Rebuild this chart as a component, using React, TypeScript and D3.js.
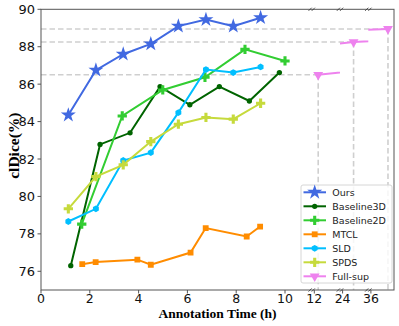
import React, { useEffect, useRef } from 'react';
import * as d3 from 'd3';

// annotation hours and clDice (%)
const oursX = [1.12, 2.25, 3.37, 4.5, 5.63, 6.76, 7.88, 9.0];
const oursY = [84.35, 86.75, 87.6, 88.15, 89.1, 89.45, 89.1, 89.55];
const base3dX = [1.22, 2.42, 3.65, 4.88, 6.1, 7.31, 8.54, 9.77];
const base3dY = [76.3, 82.78, 83.4, 85.87, 84.9, 85.87, 85.1, 86.62];
const base2dX = [1.67, 3.33, 4.99, 6.72, 8.36, 10.0];
const base2dY = [78.52, 84.3, 85.69, 86.37, 87.86, 87.24];
const mtclX = [1.69, 2.24, 3.95, 4.5, 6.13, 6.75, 8.43, 8.98];
const mtclY = [76.38, 76.49, 76.62, 76.35, 77.0, 78.31, 77.86, 78.39];
const sldX = [1.12, 2.25, 3.37, 4.5, 5.63, 6.76, 7.88, 9.0];
const sldY = [78.66, 79.34, 81.92, 82.34, 84.48, 86.78, 86.62, 86.92];
const spdsX = [1.12, 2.25, 3.37, 4.5, 5.63, 6.76, 7.88, 9.0];
const spdsY = [79.34, 81.06, 81.69, 82.93, 83.86, 84.22, 84.13, 84.98];
const fullX = [12.16, 24.45, 36.7];
const fullY = [86.5, 88.25, 88.95];

const mainTicks = [0, 2, 4, 6, 8, 10];
const breakTicks = [12, 24, 36];
const yTicks = [76, 78, 80, 82, 84, 86, 88, 90];

const seriesNames = ['Ours', 'Baseline3D', 'Baseline2D', 'MTCL', 'SLD', 'SPDS', 'Full-sup'];
const seriesColors = ['#4169e1', '#006400', '#32cd32', '#ff8c00', '#00bfff', '#c6da3c', '#ee82ee'];

const W = 399;
const H = 326;

function hexagon(r: number) {
  const pts = d3.range(6).map(i => {
    const a = Math.PI / 6 + (i * Math.PI) / 3;
    return [r * Math.cos(a), r * Math.sin(a)];
  });
  return 'M' + pts.map(p => p.join(',')).join('L') + 'Z';
}

function markerPath(name: string) {
  if (name === 'Ours') return d3.symbol(d3.symbolStar, 70)()!;
  if (name === 'Baseline3D') return d3.symbol(d3.symbolCircle, 22)()!;
  if (name === 'Baseline2D') return d3.symbol(d3.symbolCross, 48)()!;
  if (name === 'MTCL') return d3.symbol(d3.symbolSquare, 34)()!;
  if (name === 'SLD') return hexagon(3.4);
  if (name === 'SPDS') return d3.symbol(d3.symbolCross, 48)()!;
  return d3.symbol(d3.symbolTriangle, 42)()!;
}

function markerRotate(name: string) {
  return name === 'Full-sup' ? ' rotate(180)' : '';
}

export default function App() {
  const ref = useRef<SVGSVGElement>(null);

  useEffect(() => {
    const svg = d3.select(ref.current);
    svg.selectAll('*').remove();

    const left = 41;
    const right = 394;
    const top = 9.3;
    const bottom = 290;
    const breaks = [311.7, 340, 368.3];
    const secEnds = [340, 368.3, right];

    const x = d3.scaleLinear().domain([0, 10]).range([left, 285]);
    const y = d3.scaleLinear().domain([75, 90]).range([bottom, top]);
    const pxPerH = x(1) - x(0);
    // each broken section keeps the same hours-per-pixel as the main panel
    const secScales = breakTicks.map((t, i) =>
      d3.scaleLinear().domain([t - 2.6 / pxPerH, t - 2.6 / pxPerH + (secEnds[i] - breaks[i]) / pxPerH])
        .range([breaks[i], secEnds[i]]));

    const defs = svg.append('defs');
    breaks.forEach((b, i) => {
      defs.append('clipPath').attr('id', 'sec' + i)
        .append('rect')
        .attr('x', b).attr('y', top)
        .attr('width', secEnds[i] - b).attr('height', bottom - top);
    });
    defs.append('clipPath').attr('id', 'mainClip')
      .append('rect')
      .attr('x', left).attr('y', top)
      .attr('width', breaks[0] - left).attr('height', bottom - top);

    // reference lines for full supervision
    const dashColor = '#cfcfcf';
    fullY.forEach((v, i) => {
      const fx = secScales[i](fullX[i]);
      svg.append('line')
        .attr('x1', left).attr('x2', fx)
        .attr('y1', y(v)).attr('y2', y(v))
        .attr('stroke', dashColor).attr('stroke-width', 1.6)
        .attr('stroke-dasharray', '5.5,3');
      svg.append('line')
        .attr('x1', fx).attr('x2', fx)
        .attr('y1', y(v)).attr('y2', bottom)
        .attr('stroke', dashColor).attr('stroke-width', 1.6)
        .attr('stroke-dasharray', '5.5,3');
    });

    const allX = [oursX, base3dX, base2dX, mtclX, sldX, spdsX];
    const allY = [oursY, base3dY, base2dY, mtclY, sldY, spdsY];

    allX.forEach((xs, s) => {
      const pts = xs.map((v, i) => [x(v), y(allY[s][i])] as [number, number]);
      const g = svg.append('g').attr('clip-path', 'url(#mainClip)');
      g.append('path')
        .attr('d', d3.line()(pts))
        .attr('fill', 'none')
        .attr('stroke', seriesColors[s])
        .attr('stroke-width', 2);
      g.selectAll('path.m')
        .data(pts)
        .enter().append('path')
        .attr('class', 'm')
        .attr('d', markerPath(seriesNames[s]))
        .attr('transform', d => `translate(${d[0]},${d[1]})`)
        .attr('fill', seriesColors[s]);
    });

    // full-sup line, drawn once per broken section and clipped to it
    secScales.forEach((sx, i) => {
      const g = svg.append('g').attr('clip-path', `url(#sec${i})`);
      const pts = fullX.map((v, j) => [sx(v), y(fullY[j])] as [number, number]);
      g.append('path')
        .attr('d', d3.line()(pts))
        .attr('fill', 'none')
        .attr('stroke', seriesColors[6])
        .attr('stroke-width', 2);
      g.append('path')
        .attr('d', markerPath('Full-sup'))
        .attr('transform', `translate(${pts[i][0]},${pts[i][1]})` + markerRotate('Full-sup'))
        .attr('fill', seriesColors[6]);
    });

    // frame
    const axisColor = '#555';
    svg.append('rect')
      .attr('x', left).attr('y', top)
      .attr('width', right - left).attr('height', bottom - top)
      .attr('fill', 'none').attr('stroke', axisColor).attr('stroke-width', 1);

    // break marks on top and bottom spines
    breaks.forEach(b => {
      [top, bottom].forEach(yy => {
        [-1.6, 1.6].forEach(o => {
          svg.append('line')
            .attr('x1', b + o - 1.6).attr('x2', b + o + 1.6)
            .attr('y1', yy + 1.6).attr('y2', yy - 1.6)
            .attr('stroke', '#333').attr('stroke-width', 0.8);
        });
      });
    });

    const tickFont = 'DejaVu Sans, sans-serif';

    yTicks.forEach(t => {
      svg.append('line')
        .attr('x1', left - 3.5).attr('x2', left)
        .attr('y1', y(t)).attr('y2', y(t))
        .attr('stroke', axisColor);
      svg.append('text')
        .attr('x', left - 6).attr('y', y(t))
        .attr('text-anchor', 'end').attr('dominant-baseline', 'central')
        .attr('font-family', tickFont).attr('font-size', 13)
        .attr('fill', '#111')
        .text(t);
    });

    const xTickPos = mainTicks.map(t => ({ t, px: x(t) }))
      .concat(breakTicks.map((t, i) => ({ t, px: secScales[i](t) })));
    xTickPos.forEach(d => {
      svg.append('line')
        .attr('x1', d.px).attr('x2', d.px)
        .attr('y1', bottom).attr('y2', bottom + 3.5)
        .attr('stroke', axisColor);
      svg.append('text')
        .attr('x', d.px).attr('y', bottom + 12.5)
        .attr('text-anchor', 'middle')
        .attr('font-family', tickFont).attr('font-size', 12.5)
        .attr('fill', '#111')
        .text(d.t);
    });

    svg.append('text')
      .attr('x', (left + right) / 2).attr('y', 317.5)
      .attr('text-anchor', 'middle')
      .attr('font-family', 'Liberation Serif, serif').attr('font-weight', 'bold')
      .attr('font-size', 13.5)
      .text('Annotation Time (h)');

    svg.append('text')
      .attr('transform', `translate(13.5,${(top + bottom) / 2 - 4}) rotate(-90)`)
      .attr('text-anchor', 'middle').attr('dominant-baseline', 'central')
      .attr('font-family', 'Liberation Serif, serif').attr('font-weight', 'bold')
      .attr('font-size', 15.5)
      .text('clDice(%)');

    // legend
    const lg = svg.append('g');
    lg.append('rect')
      .attr('x', 301).attr('y', 185).attr('width', 91).attr('height', 98)
      .attr('rx', 2)
      .attr('fill', 'white').attr('fill-opacity', 0.8)
      .attr('stroke', '#d6d6d6');
    seriesNames.forEach((name, i) => {
      const ly = 192.3 + i * 14;
      lg.append('line')
        .attr('x1', 303.5).attr('x2', 326)
        .attr('y1', ly).attr('y2', ly)
        .attr('stroke', seriesColors[i]).attr('stroke-width', 2);
      lg.append('path')
        .attr('d', markerPath(name))
        .attr('transform', `translate(314.7,${ly})` + markerRotate(name))
        .attr('fill', seriesColors[i]);
      lg.append('text')
        .attr('x', 332.3).attr('y', ly)
        .attr('dominant-baseline', 'central')
        .attr('font-family', tickFont).attr('font-size', 9.5)
        .attr('fill', '#222')
        .text(name);
    });
  }, []);

  return (
    <svg ref={ref} width={W} height={H}
      style={{ position: 'absolute', left: 0, top: 0, background: 'white' }} />
  );
}
